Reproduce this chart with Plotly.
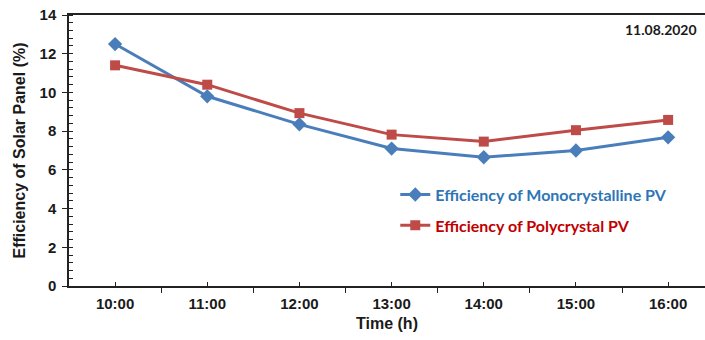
import plotly.graph_objects as go

times = ["10:00", "11:00", "12:00", "13:00", "14:00", "15:00", "16:00"]
mono = [12.5, 9.8, 8.35, 7.1, 6.65, 7.0, 7.68]
poly = [11.4, 10.4, 8.93, 7.82, 7.46, 8.05, 8.58]
xpos = list(range(len(times)))

blue = "#4A7EBB"
red = "#BE4B48"

fig = go.Figure()
fig.add_trace(go.Scatter(
    x=xpos, y=mono, mode="lines+markers",
    name="<b><span style='color:#2E75B6'>Efficiency of Monocrystalline PV</span></b>",
    legendgroup="a",
    line=dict(color=blue, width=3),
    marker=dict(symbol="diamond", size=11, color=blue),
))
fig.add_trace(go.Scatter(
    x=xpos, y=poly, mode="lines+markers",
    name="<b><span style='color:#C00000'>Efficiency of Polycrystal PV</span></b>",
    legendgroup="b",
    line=dict(color=red, width=3),
    marker=dict(symbol="square", size=10, color=red),
))

axis_font = dict(family="Liberation Sans, Arial", size=15, color="#1a1a1a")
title_font = dict(family="Liberation Sans, Arial", size=16, color="#1a1a1a")

fig.update_layout(
    width=705, height=340,
    margin=dict(l=69, r=0, t=15, b=54),
    paper_bgcolor="white", plot_bgcolor="white",
    showlegend=True,
    legend=dict(
        x=0.513, y=0.40, xanchor="left", yanchor="top",
        bgcolor="rgba(0,0,0,0)", borderwidth=0,
        font=dict(family="Lato, Open Sans", size=16),
        tracegroupgap=7, itemwidth=30,
    ),
    xaxis=dict(
        range=[-0.5, 6.4],
        tickmode="array", tickvals=xpos, ticktext=["<b>%s</b>" % t for t in times],
        ticks="inside", ticklen=4, tickwidth=1, tickcolor="#222",
        minor=dict(tick0=0.5, dtick=1, ticks="outside", ticklen=5, tickwidth=1, tickcolor="#222"),
        showline=True, linecolor="#222", linewidth=1.5, mirror=True,
        showgrid=False, zeroline=False,
        tickfont=axis_font, ticklabelstandoff=3,
        title=dict(text="<b>Time (h)</b>", font=title_font, standoff=7),
    ),
    yaxis=dict(
        range=[0, 14], dtick=2, tick0=0,
        ticks="outside", ticklen=5, tickwidth=1, tickcolor="#222",
        minor=dict(dtick=0.4, ticks="inside", ticklen=4, tickwidth=1, tickcolor="#222"),
        showline=True, linecolor="#222", linewidth=1.5, mirror=False,
        showgrid=False, zeroline=False,
        tickfont=axis_font, tickprefix="<b>", ticksuffix="</b>", ticklabelstandoff=3,
        title=dict(text="<b>Efficiency of Solar Panel (%)</b>", font=title_font, standoff=10),
    ),
)

fig.add_annotation(
    text="<b>11.08.2020</b>", x=0.99, y=0.985, xref="paper", yref="paper",
    xanchor="right", yanchor="top", showarrow=False,
    font=dict(family="Lato, Open Sans", size=14, color="#1a1a1a"),
)

fig.write_html("out.html")
